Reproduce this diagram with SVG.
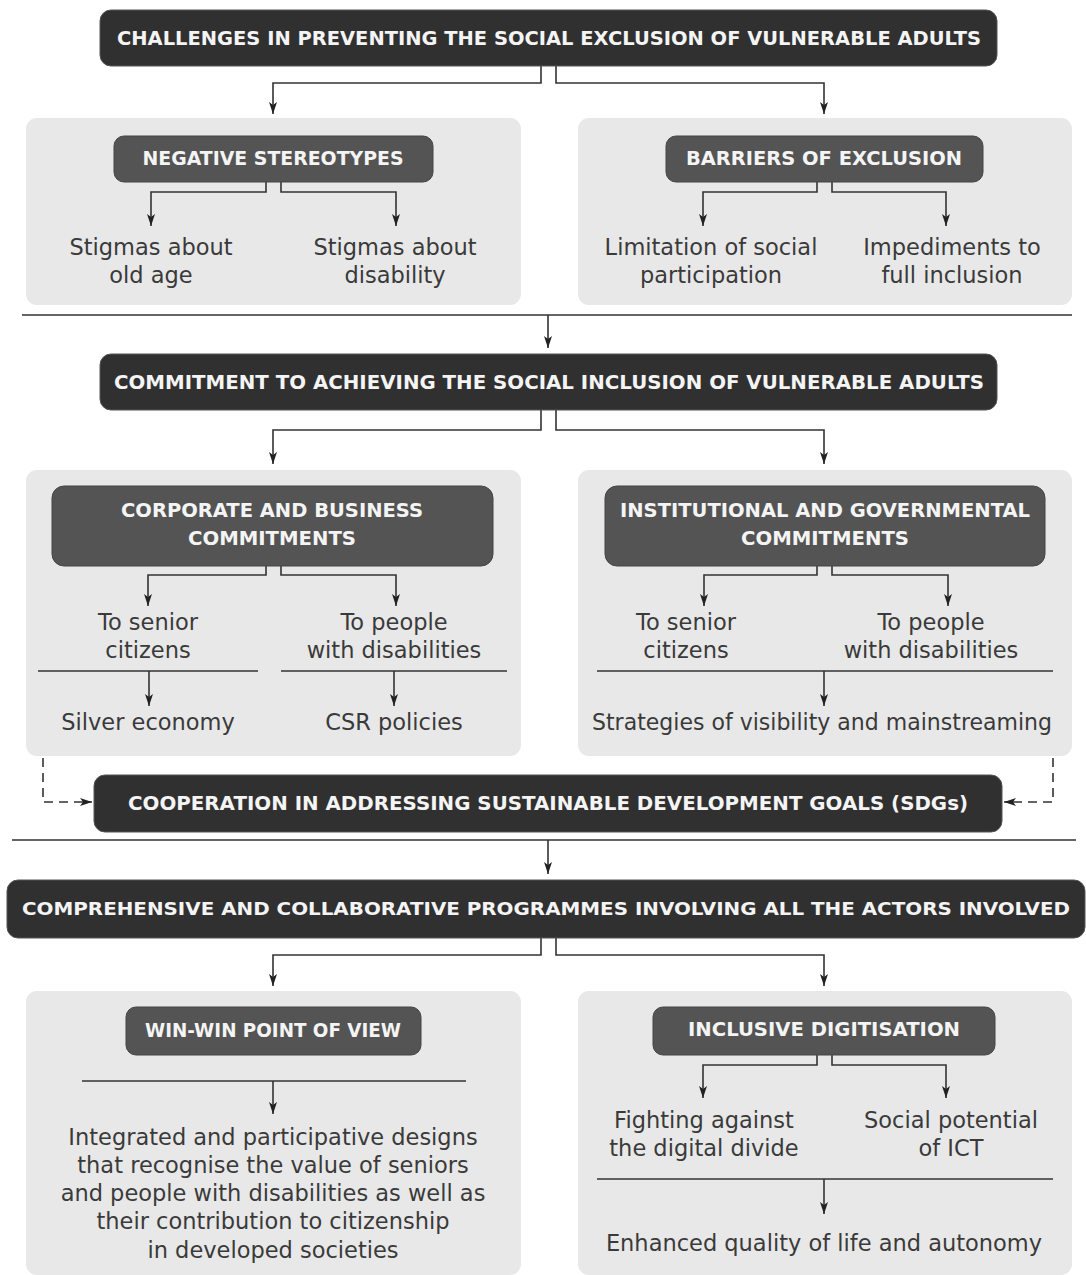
<svg xmlns="http://www.w3.org/2000/svg" width="1086" height="1275" viewBox="0 0 1086 1275">
<style>
.bg{fill:#ffffff}
.banner{fill:#303030;stroke:#555;stroke-width:1}
.box{fill:#545454;stroke:#444;stroke-width:1}
.panel{fill:#e8e8e8}
.ht{font-family:"DejaVu Sans","Liberation Sans",sans-serif;font-weight:bold;font-size:19px;fill:#f4f4f4;text-anchor:middle}
.bt{font-family:"DejaVu Sans","Liberation Sans",sans-serif;font-size:22.5px;fill:#3a3a3a;text-anchor:middle}
.ln{fill:none;stroke:#333;stroke-width:1.6}
.ar{fill:none;stroke:#333;stroke-width:1.6;marker-end:url(#ah)}
.da{fill:none;stroke:#333;stroke-width:1.6;stroke-dasharray:9,6;marker-end:url(#ah)}
</style>
<defs>
<marker id="ah" viewBox="0 0 12 8" refX="12" refY="4" markerWidth="12" markerHeight="8" markerUnits="userSpaceOnUse" orient="auto">
<path d="M0,0 L12,4 L0,8 L3,4 z" fill="#222"/>
</marker>
</defs>
<rect class="bg" x="0" y="0" width="1086" height="1275"/>

<g id="panels">
<rect class="panel" x="26" y="118" width="495" height="187" rx="11"/>
<rect class="panel" x="578" y="118" width="494" height="187" rx="11"/>
<rect class="panel" x="26" y="470" width="495" height="286" rx="11"/>
<rect class="panel" x="578" y="470" width="494" height="286" rx="11"/>
<rect class="panel" x="26" y="991" width="495" height="284" rx="11"/>
<rect class="panel" x="578" y="991" width="494" height="284" rx="11"/>
</g>

<g id="connectors">
<path class="ar" d="M541,66 V83 H273 V114"/>
<path class="ar" d="M556,66 V83 H824 V114"/>
<path class="ar" d="M266,182 V192 H151 V226"/>
<path class="ar" d="M281,182 V192 H396 V226"/>
<path class="ar" d="M817,182 V192 H703 V226"/>
<path class="ar" d="M832,182 V192 H946 V226"/>
<path class="ln" d="M22,315 H1072"/>
<path class="ar" d="M548,315 V348"/>
<path class="ar" d="M541,410 V430 H273 V464"/>
<path class="ar" d="M556,410 V430 H824 V464"/>
<path class="ar" d="M266,566 V575 H148 V606"/>
<path class="ar" d="M281,566 V575 H396 V606"/>
<path class="ar" d="M817,566 V575 H704 V606"/>
<path class="ar" d="M832,566 V575 H948 V606"/>
<path class="ln" d="M38,671 H258"/>
<path class="ln" d="M281,671 H507"/>
<path class="ln" d="M597,671 H1053"/>
<path class="ar" d="M149,671 V706"/>
<path class="ar" d="M394,671 V706"/>
<path class="ar" d="M824,671 V706"/>
<path class="da" d="M43,758 V802 H92"/>
<path class="da" d="M1053,758 V802 H1004"/>
<path class="ln" d="M12,840 H1076"/>
<path class="ar" d="M548,840 V874"/>
<path class="ar" d="M541,938 V955 H273 V986"/>
<path class="ar" d="M556,938 V955 H824 V986"/>
<path class="ln" d="M82,1081 H466"/>
<path class="ar" d="M273,1081 V1114"/>
<path class="ar" d="M817,1055 V1065 H703 V1098"/>
<path class="ar" d="M832,1055 V1065 H946 V1098"/>
<path class="ln" d="M597,1179 H1053"/>
<path class="ar" d="M824,1179 V1214"/>
</g>

<g id="n-challenges">
<rect class="banner" x="100" y="10" width="897" height="56" rx="11"/>
<text class="ht" x="549" y="45" textLength="864" lengthAdjust="spacingAndGlyphs">CHALLENGES IN PREVENTING THE SOCIAL EXCLUSION OF VULNERABLE ADULTS</text>
</g>
<g id="n-stereotypes">
<rect class="box" x="114" y="136" width="319" height="46" rx="10"/>
<text class="ht" x="273" y="165" textLength="261" lengthAdjust="spacingAndGlyphs">NEGATIVE STEREOTYPES</text>
</g>
<g id="n-stigma-age">
<text class="bt" x="151" y="255">Stigmas about</text>
<text class="bt" x="151" y="283">old age</text>
</g>
<g id="n-stigma-dis">
<text class="bt" x="395" y="255">Stigmas about</text>
<text class="bt" x="395" y="283">disability</text>
</g>
<g id="n-barriers">
<rect class="box" x="666" y="136" width="317" height="46" rx="10"/>
<text class="ht" x="824" y="165" textLength="276" lengthAdjust="spacingAndGlyphs">BARRIERS OF EXCLUSION</text>
</g>
<g id="n-limitation">
<text class="bt" x="711" y="255">Limitation of social</text>
<text class="bt" x="711" y="283">participation</text>
</g>
<g id="n-impediments">
<text class="bt" x="952" y="255">Impediments to</text>
<text class="bt" x="952" y="283">full inclusion</text>
</g>

<g id="n-commitment">
<rect class="banner" x="100" y="354" width="897" height="56" rx="11"/>
<text class="ht" x="549" y="389" textLength="870" lengthAdjust="spacingAndGlyphs">COMMITMENT TO ACHIEVING THE SOCIAL INCLUSION OF VULNERABLE ADULTS</text>
</g>
<g id="n-corporate">
<rect class="box" x="52" y="486" width="441" height="80" rx="12"/>
<text class="ht" x="272" y="517" textLength="302" lengthAdjust="spacingAndGlyphs">CORPORATE AND BUSINESS</text>
<text class="ht" x="272" y="545" textLength="168" lengthAdjust="spacingAndGlyphs">COMMITMENTS</text>
</g>
<g id="n-corp-senior">
<text class="bt" x="148" y="630">To senior</text>
<text class="bt" x="148" y="658">citizens</text>
</g>
<g id="n-corp-dis">
<text class="bt" x="394" y="630">To people</text>
<text class="bt" x="394" y="658">with disabilities</text>
</g>
<g id="n-silver">
<text class="bt" x="148" y="730">Silver economy</text>
</g>
<g id="n-csr">
<text class="bt" x="394" y="730">CSR policies</text>
</g>
<g id="n-institutional">
<rect class="box" x="605" y="486" width="440" height="80" rx="12"/>
<text class="ht" x="825" y="517" textLength="410" lengthAdjust="spacingAndGlyphs">INSTITUTIONAL AND GOVERNMENTAL</text>
<text class="ht" x="825" y="545" textLength="168" lengthAdjust="spacingAndGlyphs">COMMITMENTS</text>
</g>
<g id="n-inst-senior">
<text class="bt" x="686" y="630">To senior</text>
<text class="bt" x="686" y="658">citizens</text>
</g>
<g id="n-inst-dis">
<text class="bt" x="931" y="630">To people</text>
<text class="bt" x="931" y="658">with disabilities</text>
</g>
<g id="n-strategies">
<text class="bt" x="822" y="730" textLength="460" lengthAdjust="spacingAndGlyphs">Strategies of visibility and mainstreaming</text>
</g>

<g id="n-cooperation">
<rect class="banner" x="94" y="775" width="908" height="57" rx="11"/>
<text class="ht" x="548" y="810" textLength="840" lengthAdjust="spacingAndGlyphs">COOPERATION IN ADDRESSING SUSTAINABLE DEVELOPMENT GOALS (SDGs)</text>
</g>

<g id="n-comprehensive">
<rect class="banner" x="7" y="880" width="1078" height="58" rx="11"/>
<text class="ht" x="546" y="915" style="font-size:18px" textLength="1048" lengthAdjust="spacingAndGlyphs">COMPREHENSIVE AND COLLABORATIVE PROGRAMMES INVOLVING ALL THE ACTORS INVOLVED</text>
</g>
<g id="n-winwin">
<rect class="box" x="126" y="1007" width="295" height="48" rx="10"/>
<text class="ht" x="273" y="1037" textLength="256" lengthAdjust="spacingAndGlyphs">WIN-WIN POINT OF VIEW</text>
</g>
<g id="n-integrated">
<text class="bt" x="273" y="1145">Integrated and participative designs</text>
<text class="bt" x="273" y="1173">that recognise the value of seniors</text>
<text class="bt" x="273" y="1201">and people with disabilities as well as</text>
<text class="bt" x="273" y="1229">their contribution to citizenship</text>
<text class="bt" x="273" y="1258">in developed societies</text>
</g>
<g id="n-digitisation">
<rect class="box" x="653" y="1007" width="342" height="48" rx="10"/>
<text class="ht" x="824" y="1036" textLength="272" lengthAdjust="spacingAndGlyphs">INCLUSIVE DIGITISATION</text>
</g>
<g id="n-fighting">
<text class="bt" x="704" y="1128">Fighting against</text>
<text class="bt" x="704" y="1156">the digital divide</text>
</g>
<g id="n-ict">
<text class="bt" x="951" y="1128">Social potential</text>
<text class="bt" x="951" y="1156">of ICT</text>
</g>
<g id="n-enhanced">
<text class="bt" x="824" y="1251">Enhanced quality of life and autonomy</text>
</g>
</svg>
